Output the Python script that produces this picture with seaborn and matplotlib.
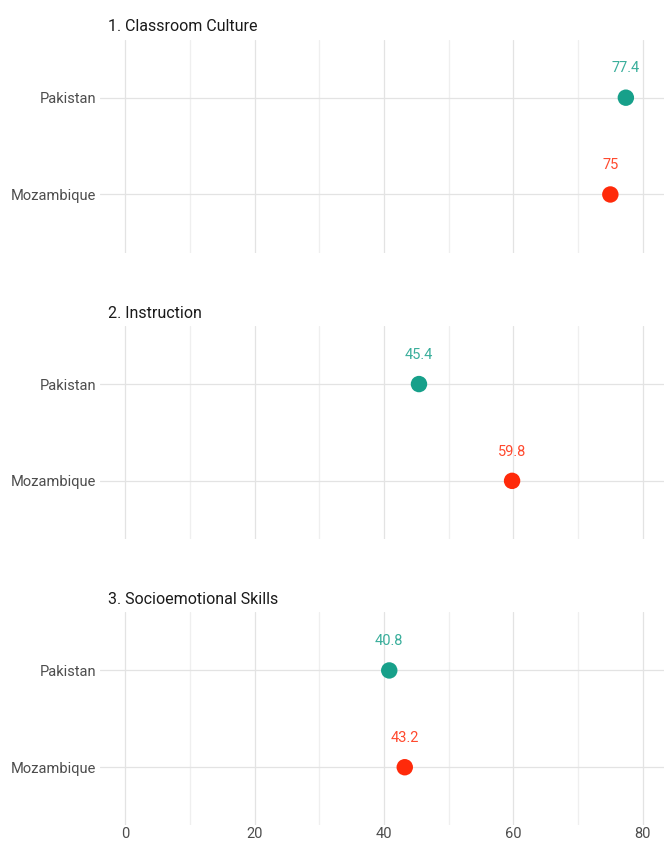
import pandas as pd
import seaborn as sns
import matplotlib.pyplot as plt

# Data
domains = ['1. Classroom Culture', '2. Instruction', '3. Socioemotional Skills']
countries = ['Pakistan', 'Mozambique']
pakistan = [77.4, 45.4, 40.8]
mozambique = [75, 59.8, 43.2]
x_ticks = [0, 20, 40, 60, 80]

colors = {'Pakistan': '#17a08a', 'Mozambique': '#ff2a0a'}

rows = []
for i, d in enumerate(domains):
    rows.append({'domain': d, 'country': 'Pakistan', 'score': pakistan[i]})
    rows.append({'domain': d, 'country': 'Mozambique', 'score': mozambique[i]})
df = pd.DataFrame(rows)

sns.set_theme(style='white')
plt.rcParams['font.family'] = ['Roboto', 'DejaVu Sans']

fig, axes = plt.subplots(3, 1, figsize=(6.64, 8.43), dpi=100, sharex=True)
fig.subplots_adjust(left=0.151, right=1.0, top=0.953, bottom=0.021, hspace=0.345)

for ax, d in zip(axes, domains):
    sub = df[df['domain'] == d]
    sub_y = sub['country'].map({c: i for i, c in enumerate(countries)})
    sns.scatterplot(data=sub, x='score', y=sub_y, hue='country', palette=colors,
                    s=140, edgecolor='none', legend=False, ax=ax, zorder=3)
    for _, r in sub.iterrows():
        yy = countries.index(r['country'])
        label = f"{r['score']:g}"
        ax.annotate(label, (r['score'], yy), xytext=(0, 16), textcoords='offset points',
                    ha='center', va='bottom', fontsize=10.5, color=colors[r['country']], alpha=0.85)
    ax.set_xlim(-3.9, 83.3)
    ax.set_ylim(1.6, -0.6)
    ax.set_yticks([0, 1])
    ax.set_yticklabels(countries)
    ax.set_xticks(x_ticks)
    ax.set_xticks([10, 30, 50, 70], minor=True)
    ax.grid(True, which='major', color='#e3e3e3', linewidth=0.9)
    ax.grid(True, which='minor', axis='x', color='#efefef', linewidth=0.9)
    ax.set_axisbelow(True)
    for s in ax.spines.values():
        s.set_visible(False)
    ax.set_xlabel('')
    ax.set_ylabel('')
    ax.tick_params(axis='both', length=0, labelsize=10.5, labelcolor='#4d4d4d', pad=3)
    ax.tick_params(axis='x', pad=1)
    ax.set_title(d, loc='left', x=0.014, fontsize=11.5, color='#1a1a1a', pad=6)

plt.savefig('out.png', dpi=100)
